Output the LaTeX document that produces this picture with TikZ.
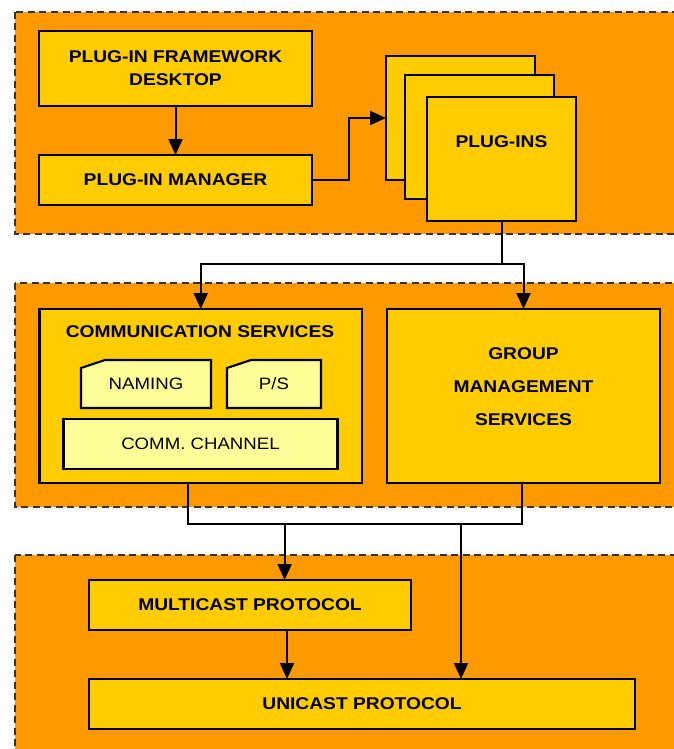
\documentclass[tikz,border=0pt]{standalone}
\usepackage{fontspec}
\newfontfamily\lab[FakeStretch=1.13]{Liberation Sans}
\usetikzlibrary{arrows.meta}
\definecolor{panelorange}{HTML}{FF9900}
\definecolor{boxgold}{HTML}{FFCC00}
\definecolor{boxlight}{HTML}{FFFF99}
\begin{document}
\begin{tikzpicture}[x=1pt, y=-1pt,
  panel/.style={draw=black!80, fill=panelorange, line width=1.6pt, dash pattern=on 7pt off 4.5pt},
  box/.style={draw=black, line width=2.2pt, fill=boxgold, inner sep=0pt, outer sep=0pt, anchor=north west,
    align=center, font=\lab\fontsize{17}{23}\selectfont\bfseries},
  lightshape/.style={draw=black, line width=2.2pt, fill=boxlight},
  lighttext/.style={font=\lab\fontsize{16.5}{20}\selectfont, inner sep=0pt},
  title/.style={font=\lab\fontsize{17}{23}\selectfont\bfseries, inner sep=0pt},
  wire/.style={line width=2pt},
  arr/.style={wire, -{Triangle[length=16pt,width=14pt]}}]
\useasboundingbox (0,0) rectangle (674,749);
\clip (0,0) rectangle (674,749);
\fill[white] (0,0) rectangle (674,749);

% layer panels
\path[panel] (15,12) rectangle (700,234);
\path[panel] (15,283) rectangle (700,507);
\path[panel] (15,555) rectangle (700,770);

% top layer: framework, manager and plug-in stack
\node[box, minimum width=273pt, minimum height=75pt] (fw) at (39,31) {PLUG-IN FRAMEWORK\\DESKTOP};
\node[box, minimum width=273pt, minimum height=50pt] (mgr) at (39,155) {PLUG-IN MANAGER};
\node[box, minimum width=149pt, minimum height=124pt] (pi1) at (386,56) {};
\node[box, minimum width=149pt, minimum height=124pt] (pi2) at (405,75) {};
\node[box, minimum width=149pt, minimum height=124pt] (pi3) at (427,97) {};
\node[title] (pilabel) at ([yshift=17pt]pi3.center) {PLUG-INS};

% middle layer: services
\node[box, minimum width=322.5pt, minimum height=174pt] (cs) at (39.5,309) {};
\node[title] (cstitle) at (200,332) {COMMUNICATION SERVICES};
\filldraw[lightshape] (81,368) -- (105,360) -- (211,360) -- (211,408) -- (81,408) -- cycle;
\node[lighttext] (naming) at (146,384) {NAMING};
\filldraw[lightshape] (227,368) -- (251,360) -- (321,360) -- (321,408) -- (227,408) -- cycle;
\node[lighttext] (ps) at (274,384) {P/S};
\node[box, fill=boxlight, font=\lab\fontsize{16.5}{20}\selectfont, minimum width=274pt, minimum height=50pt] (chan) at (63.5,419) {COMM. CHANNEL};
\node[box, minimum width=273pt, minimum height=174pt, font=\lab\fontsize{17}{33}\selectfont\bfseries,
  text depth=18pt] (gm) at (387,309) {GROUP\\MANAGEMENT\\SERVICES};

% bottom layer: protocols
\node[box, minimum width=322pt, minimum height=50pt] (mc) at (89,580) {MULTICAST PROTOCOL};
\node[box, minimum width=546pt, minimum height=50pt] (uc) at (89,679) {UNICAST PROTOCOL};

% connectors
\draw[arr] (fw.south) -- (mgr.north);
\draw[arr] (mgr.east) -- ++(37,0) |- (pi1.west);
\path (pi3.south) ++(0,43) coordinate (j1);
\draw[wire] (pi3.south) -- (j1);
\draw[arr] (j1) -| (cs.north);
\draw[arr] (j1) -| (gm.north);
\draw[wire] ([xshift=-12.75pt]cs.south) -- ++(0,41) -| ([xshift=-2pt]gm.south);
\coordinate (j2) at (284.6,524);
\coordinate (j3) at (461,524);
\draw[arr] (j2) -- (j2 |- mc.north);
\draw[arr] (j3) -- (j3 |- uc.north);
\draw[arr] ([xshift=37pt]mc.south) -- ([xshift=37pt]mc.south |- uc.north);
\end{tikzpicture}
\end{document}
